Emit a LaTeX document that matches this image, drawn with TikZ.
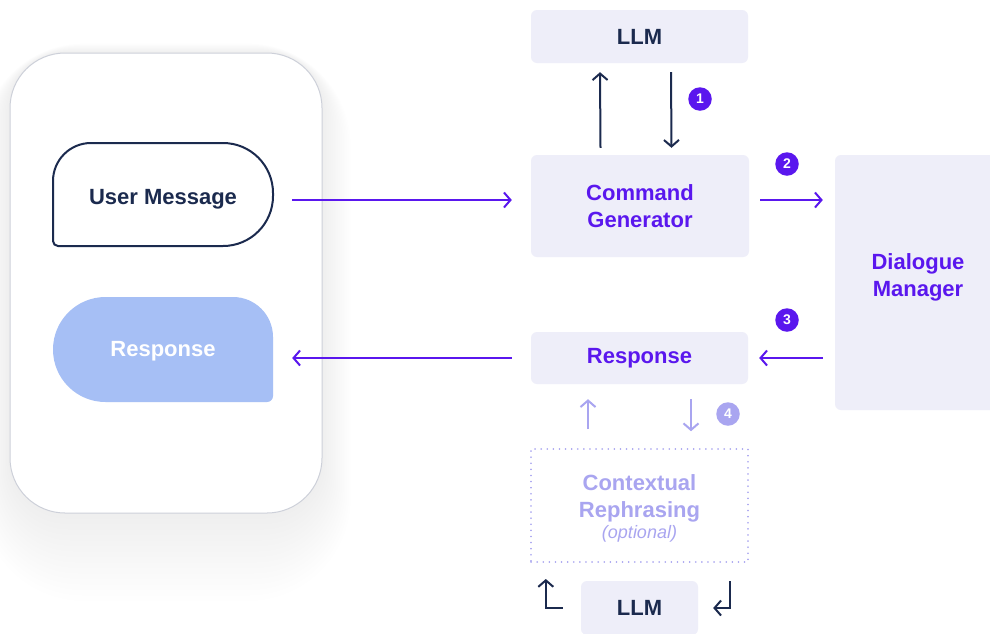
\documentclass[tikz,border=0pt]{standalone}
\usepackage{fontspec}
\setmainfont{Liberation Sans}
\usetikzlibrary{arrows.meta}
\definecolor{purp}{HTML}{5A17EE}
\definecolor{navy}{HTML}{1B2A4E}
\definecolor{boxfill}{HTML}{EEEEF9}
\definecolor{lav}{HTML}{A9A5F0}
\definecolor{bubble}{HTML}{A6BFF5}
\definecolor{frame}{HTML}{CDD0D9}
\definecolor{shad}{HTML}{5A6488}
\tikzset{
  x=1pt,y=1pt,
  lbl/.style={font=\fontsize{22}{27}\selectfont\bfseries, align=center},
  graybox/.style={fill=boxfill, rounded corners=6pt, inner sep=0pt},
  arr/.style={line width=2pt, -{Straight Barb[length=6.5pt,width=15pt,line width=2pt]}},
  parr/.style={arr, draw=purp},
  narr/.style={arr, draw=navy},
  larr/.style={arr, draw=lav},
  badge/.style={circle, fill=purp, text=white, minimum size=23.5pt, inner sep=0pt, font=\fontsize{14}{14}\selectfont\bfseries},
}
\begin{document}
\begin{tikzpicture}
\clip (0,0) rectangle (990,-633);
\fill[white] (0,0) rectangle (990,-633);
% soft shadow of the phone frame
\foreach \i in {1,...,16}{
  \fill[shad, opacity=0.0035, rounded corners=55pt+3*\i pt] (10-1.8*\i,-53+0.6*\i) rectangle (322+1.8*\i,-513-5.5*\i);
}
% phone frame
\node[draw=frame, line width=1pt, fill=white, rounded corners=55pt, minimum width=312pt, minimum height=460pt] (phone) at (166,-283) {};
% user message bubble
\draw[navy, line width=2pt] (53,-241) -- (53,-181) arc[start angle=180,end angle=90,radius=38]
  -- (223,-143) arc[start angle=90,end angle=0,radius=50]
  -- (273,-196) arc[start angle=0,end angle=-90,radius=50]
  -- (58,-246) arc[start angle=270,end angle=180,radius=5] -- cycle;
\node[lbl, text=navy, minimum width=220pt, minimum height=103pt, inner sep=0pt] (um) at (163,-199) {User Message};
% response bubble
\fill[bubble] (53,-349.5) arc[start angle=180,end angle=90,radius=52.5]
  -- (233,-297) arc[start angle=90,end angle=0,radius=40]
  -- (273,-396) arc[start angle=0,end angle=-90,radius=6]
  -- (105.5,-402) arc[start angle=270,end angle=180,radius=52.5] -- cycle;
\node[lbl, text=white, minimum width=220pt, minimum height=105pt, inner sep=0pt] (rb) at (163,-351) {Response};
% right column
\node[graybox, lbl, text=navy, minimum width=217pt, minimum height=53pt] (llm1) at (639.5,-36.5) {LLM};
\node[graybox, lbl, text=purp, minimum width=218pt, minimum height=102pt] (cg) at (640,-206) {Command\\Generator};
\node[graybox, minimum width=166pt, minimum height=255pt] (dm) at (918,-282.5) {};
\node[lbl, text=purp] (dmt) at (918,-277) {Dialogue\\Manager};
\node[graybox, lbl, text=purp, minimum width=217pt, minimum height=52pt] (resp) at (639.5,-358) {Response};
\node[draw=lav, line width=1.6pt, dash pattern=on 0.1pt off 6pt, line cap=round, minimum width=217pt, minimum height=113pt, inner sep=0pt] (ctx) at (639.5,-505.5) {};
\node[align=center, text=lav, font=\fontsize{22}{27}\selectfont] (ctxt) at (639.5,-508)
  {\bfseries Contextual\\\bfseries Rephrasing\\[-6pt]{\fontsize{18}{22}\selectfont\itshape (optional)}};
\node[graybox, lbl, text=navy, minimum width=117pt, minimum height=54pt] (llm2) at (639.5,-608) {LLM};
% arrows
\draw[parr] ([xshift=19pt,yshift=-1pt]um.east) -- ([xshift=-19pt,yshift=6pt]cg.west);
\draw[parr] ([xshift=11pt,yshift=6pt]cg.east) -- ([xshift=-12pt,yshift=6pt]dm.west |- cg.east);
\draw[parr] ([xshift=-12pt]dm.west |- resp.east) -- ([xshift=11pt]resp.east);
\draw[parr] ([xshift=-19pt]resp.west) -- ([xshift=19pt,yshift=-7pt]rb.east);
\draw[narr] ([xshift=-39.5pt,yshift=7pt]cg.north) -- ([xshift=-39.5pt,yshift=-9pt]llm1.south);
\draw[narr] ([xshift=31.5pt,yshift=-9pt]llm1.south) -- ([xshift=31.5pt,yshift=7pt]cg.north);
\draw[larr] ([xshift=-51.5pt,yshift=19pt]ctx.north) -- ([xshift=-51.5pt,yshift=-15pt]resp.south);
\draw[larr] ([xshift=51.5pt,yshift=-15pt]resp.south) -- ([xshift=51.5pt,yshift=17pt]ctx.north);
\draw[narr] ([xshift=-18pt]llm2.west) -| ([xshift=-35pt,yshift=29pt]llm2.west);
\draw[narr] ([xshift=32pt,yshift=27pt]llm2.east) |- ([xshift=15pt]llm2.east);
% badges
\node[badge] (b1) at (700,-99) {1};
\node[badge] (b2) at (787,-164) {2};
\node[badge] (b3) at (787,-320) {3};
\node[badge, fill=lav] (b4) at (728,-414) {4};
\end{tikzpicture}
\end{document}
